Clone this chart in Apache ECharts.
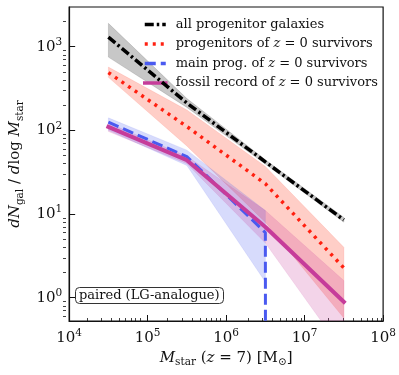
<!DOCTYPE html>
<html>
<head>
<meta charset="utf-8">
<script src="https://cdn.jsdelivr.net/npm/echarts@6/dist/echarts.min.js"></script>
<style>
  html, body { margin: 0; padding: 0; background: #fff; }
  #chart { width: 399px; height: 375px; }
</style>
</head>
<body>
<div id="chart"></div>
<script>
// stellar mass bins (z = 7) and number densities per bin
const massBins = [3.16e4, 3.16e5, 3.16e6, 3.16e7];

const allProg = [1300, 212, 42, 8.5];
const allProgLo = [750, 188, 39.5, 8.0];
const allProgHi = [1900, 240, 44.5, 9.1];

const survProg = [490, 111, 23, 2.27];
const survProgLo = [430, 65, 8, 0.57];
const survProgHi = [570, 175, 37, 4.0];

const mainProg = [125, 48.5, 6, 0];
const mainProgLo = [100, 38, 1.54];
const mainProgHi = [141, 58, 11];

const fossil = [110, 44, 7, 0.89];
const fossilLo = [97, 40, 4.5, 0.22];
const fossilHi = [122, 49, 11, 1.6];

const xTickExp = [4, 5, 6, 7, 8];
const yTickExp = [0, 1, 2, 3];

const FONT = 'DejaVu Serif';

// log10, zero goes far below the axis (like matplotlib clipping)
const lg = v => (v > 0 ? Math.log10(v) : -1000);

function minorTicks(lo, hi) {
  const out = [];
  for (let n = Math.floor(lo) - 1; n <= Math.ceil(hi); n++) {
    for (let k = 2; k <= 9; k++) {
      const v = n + Math.log10(k);
      if (v > lo && v < hi) out.push(v);
    }
  }
  return out;
}

const xMin = 4, xMax = 8;
const yMin = -0.2785, yMax = 3.474;

function lineSeries(name, vals, color, width, type, cap) {
  return {
    name: name,
    type: 'line',
    symbol: 'none',
    clip: true,
    z: 5,
    data: vals.map((v, i) => [lg(massBins[i]), lg(v)]),
    lineStyle: { color: color, width: width, type: type, cap: cap || 'butt' },
    itemStyle: { color: color }
  };
}

function bandSeries(lo, hi, fill, stroke) {
  return {
    type: 'custom',
    silent: true,
    clip: true,
    z: 1,
    data: [[5, 1]],
    renderItem: function (params, api) {
      const n = lo.length;
      const pts = [];
      for (let i = 0; i < n; i++) pts.push(api.coord([lg(massBins[i]), lg(hi[i])]));
      for (let i = n - 1; i >= 0; i--) pts.push(api.coord([lg(massBins[i]), lg(lo[i])]));
      return {
        type: 'polygon',
        shape: { points: pts },
        style: { fill: fill, stroke: stroke, lineWidth: 1 }
      };
    }
  };
}

const tickRich = {
  b: { fontFamily: FONT, fontSize: 15, color: '#111', lineHeight: 20, verticalAlign: 'middle' },
  e: { fontFamily: FONT, fontSize: 10.5, color: '#111', lineHeight: 11, verticalAlign: 'top' }
};

const nameRich = {
  i: { fontFamily: FONT, fontStyle: 'italic', fontSize: 15, color: '#111', lineHeight: 20, verticalAlign: 'middle' },
  r: { fontFamily: FONT, fontSize: 15, color: '#111', lineHeight: 20, verticalAlign: 'middle' },
  s: { fontFamily: FONT, fontSize: 10.5, color: '#111', lineHeight: 10, verticalAlign: 'bottom' }
};

const gridBox = { left: 63, right: 14, top: 7, bottom: 54 };

const chart = echarts.init(document.getElementById('chart'), null, { renderer: 'canvas' });

const option = {
  animation: false,
  backgroundColor: '#fff',
  title: {
    text: 'paired (LG-analogue)',
    left: 75,
    top: 287,
    padding: [2, 4, 2, 4],
    borderColor: '#333',
    borderWidth: 1,
    borderRadius: 4,
    backgroundColor: '#fff',
    textStyle: { fontFamily: FONT, fontSize: 13, fontWeight: 'normal', color: '#111' }
  },
  legend: {
    data: ['all progenitor galaxies', 'progenitors of z = 0 survivors',
      'main prog. of z = 0 survivors', 'fossil record of z = 0 survivors'],
    orient: 'vertical',
    left: 143,
    top: 18,
    padding: 0,
    itemWidth: 21,
    itemHeight: 13,
    itemGap: 6.5,
    itemStyle: { opacity: 0 },
    lineStyle: { width: 3.5 },
    textStyle: {
      padding: [0, 0, 0, 5],
      rich: {
        t: { fontFamily: FONT, fontSize: 13, color: '#111' },
        i: { fontFamily: FONT, fontSize: 13, fontStyle: 'italic', color: '#111' }
      }
    },
    formatter: function (name) {
      const parts = name.split('z = 0');
      if (parts.length < 2) return '{t|' + name + '}';
      return '{t|' + parts[0] + '}{i|z}{t| = 0' + parts[1] + '}';
    }
  },
  grid: [
    Object.assign({ show: true, borderColor: '#111', borderWidth: 1.2, backgroundColor: 'transparent' }, gridBox),
    Object.assign({ show: false }, gridBox)
  ],
  xAxis: [
    {
      gridIndex: 0,
      type: 'value', min: xMin, max: xMax, position: 'bottom',
      axisLine: { onZero: false, lineStyle: { color: '#111', width: 1.2 } },
      axisTick: { show: true, inside: true, length: 6, lineStyle: { color: '#111', width: 1 }, customValues: xTickExp },
      axisLabel: {
        customValues: xTickExp, margin: 7,
        formatter: v => '{b|10}{e|' + v + '}',
        rich: tickRich
      },
      splitLine: { show: false },
      name: '{i|M}{s|star}{r| (}{i|z}{r| = 7) [M}{s|⊙}{r|]}',
      nameLocation: 'middle',
      nameGap: 27,
      nameTextStyle: { rich: nameRich }
    },
    {
      gridIndex: 1,
      type: 'value', min: xMin, max: xMax, position: 'bottom', offset: 0,
      axisLine: { show: false, onZero: false },
      axisTick: { show: true, inside: true, length: 3, lineStyle: { color: '#111', width: 0.8 }, customValues: minorTicks(xMin, xMax) },
      axisLabel: { show: false, customValues: minorTicks(xMin, xMax) },
      splitLine: { show: false }
    }
  ],
  yAxis: [
    {
      gridIndex: 0,
      type: 'value', min: yMin, max: yMax, position: 'left',
      axisLine: { show: true, onZero: false, lineStyle: { color: '#111', width: 1.2 } },
      axisTick: { show: true, inside: true, length: 6, lineStyle: { color: '#111', width: 1 }, customValues: yTickExp },
      axisLabel: {
        customValues: yTickExp, margin: 7,
        formatter: v => '{b|10}{e|' + v + '}',
        rich: tickRich
      },
      splitLine: { show: false },
      name: '{i|dN}{s|gal}{r| / }{i|d}{r|log }{i|M}{s|star}',
      nameLocation: 'middle',
      nameRotate: 90,
      nameGap: 38,
      nameTextStyle: { rich: nameRich }
    },
    {
      gridIndex: 1,
      type: 'value', min: yMin, max: yMax, position: 'left', offset: 0,
      axisLine: { show: false, onZero: false },
      axisTick: { show: true, inside: true, length: 3, lineStyle: { color: '#111', width: 0.8 }, customValues: minorTicks(yMin, yMax) },
      axisLabel: { show: false, customValues: minorTicks(yMin, yMax) },
      splitLine: { show: false }
    }
  ],
  series: [
    bandSeries(allProgLo, allProgHi, 'rgba(0,0,0,0.22)', 'rgba(0,0,0,0.12)'),
    bandSeries(survProgLo, survProgHi, 'rgba(255,30,0,0.22)', 'rgba(255,30,0,0.1)'),
    bandSeries(mainProgLo, mainProgHi, 'rgba(74,90,240,0.22)', 'rgba(74,90,240,0.1)'),
    bandSeries(fossilLo, fossilHi, 'rgba(200,60,155,0.22)', 'rgba(200,60,155,0.1)'),
    lineSeries('all progenitor galaxies', allProg, '#000', 3.5, [9, 3, 2.5, 3]),
    lineSeries('progenitors of z = 0 survivors', survProg, '#ff2010', 3.5, [3, 5]),
    lineSeries('main prog. of z = 0 survivors', mainProg, '#4a5af0', 3, [11, 5]),
    lineSeries('fossil record of z = 0 survivors', fossil, '#c63c9a', 4, 'solid', 'square')
  ]
};

chart.setOption(option);
</script>
</body>
</html>
